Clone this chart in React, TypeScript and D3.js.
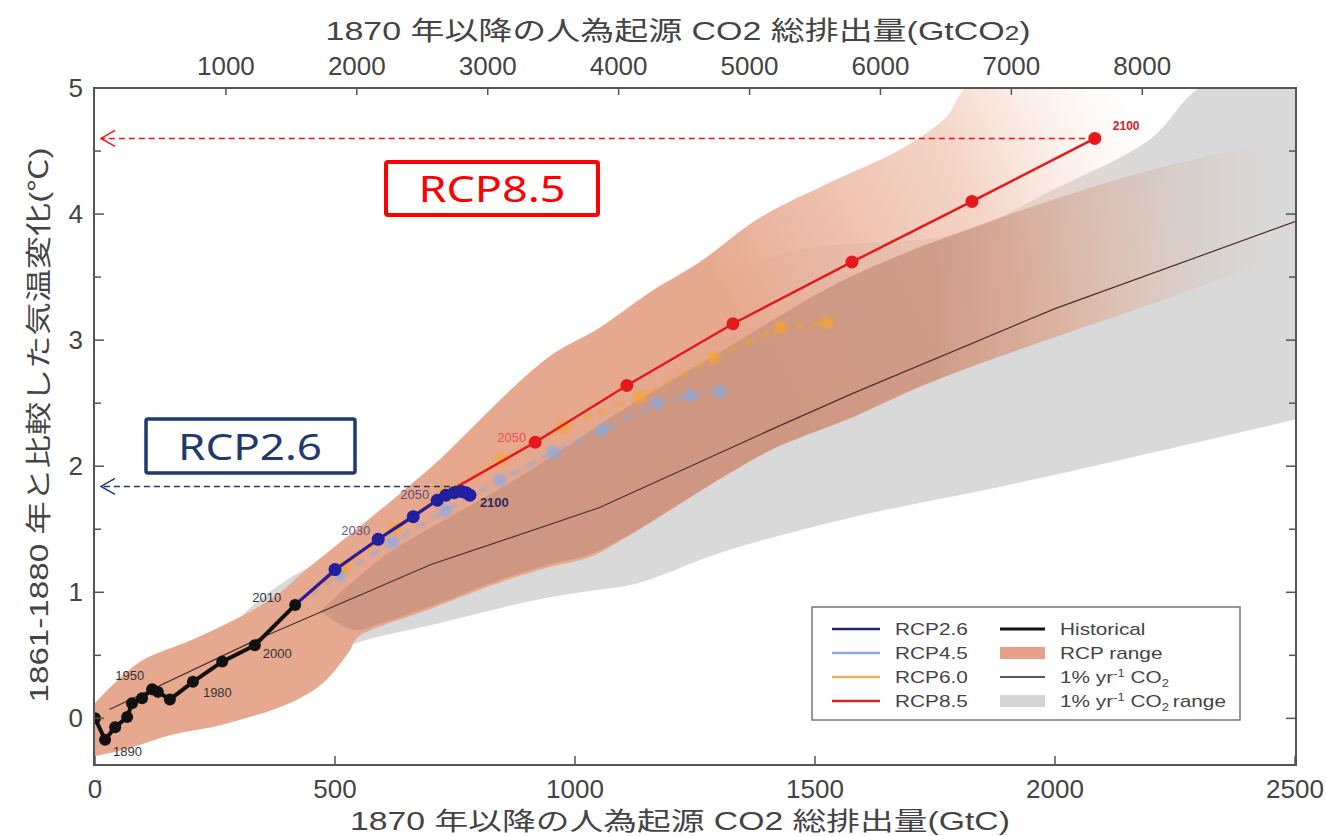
import * as d3 from 'd3';

// cumulative CO2 emissions since 1870 (GtC) and temperature change vs 1861-1880 (°C)
const histYears = [1870, 1890, 1900, 1910, 1920, 1930, 1950, 1960, 1970, 1980, 1990, 2000, 2010];
const histEmis = [0, 21, 42, 67, 77, 98, 119, 131, 156, 204, 265, 333, 417];
const histTemp = [0.0, -0.17, -0.07, 0.01, 0.12, 0.16, 0.23, 0.21, 0.15, 0.29, 0.45, 0.58, 0.9];

const rcpYears = [2010, 2020, 2030, 2040, 2050, 2060, 2070, 2080, 2090, 2100];
const rcp26Emis = [417, 500, 590, 663, 713, 731, 748, 763, 773, 781];
const rcp26Temp = [0.9, 1.18, 1.42, 1.6, 1.73, 1.77, 1.79, 1.8, 1.79, 1.77];
const rcp45Emis = [417, 510, 620, 730, 844, 954, 1058, 1171, 1240, 1302];
const rcp45Temp = [0.9, 1.14, 1.4, 1.65, 1.89, 2.11, 2.29, 2.5, 2.56, 2.59];
const rcp60Emis = [417, 520, 625, 730, 845, 975, 1135, 1288, 1427, 1525];
const rcp60Temp = [0.9, 1.2, 1.5, 1.8, 2.05, 2.31, 2.55, 2.86, 3.1, 3.14];
const rcp85Emis = [417, 510, 620, 760, 917, 1108, 1329, 1577, 1827, 2083];
const rcp85Temp = [0.9, 1.2, 1.5, 1.85, 2.19, 2.64, 3.13, 3.62, 4.1, 4.6];

// 1% per year CO2 experiment
const pctEmis = [30, 340, 700, 1050, 1420, 1580, 2000, 2500];
const pctTemp = [0.07, 0.63, 1.22, 1.67, 2.31, 2.58, 3.25, 3.94];

// ranges [emissions, temperature]
const pctRangeUpper: [number, number][] = [[150, 0.3], [250, 0.6], [330, 0.9], [400, 1.1], [470, 1.25], [600, 1.6], [800, 2.2], [1000, 2.8], [1200, 3.3], [1450, 3.7], [1800, 3.85], [2000, 4.2], [2200, 4.6], [2300, 5.0], [2500, 5.3]];
const pctRangeLower: [number, number][] = [[150, 0.3], [300, 0.4], [450, 0.45], [546, 0.6], [700, 0.74], [850, 0.88], [947, 0.96], [1031, 1.01], [1129, 1.07], [1300, 1.31], [1550, 1.57], [1950, 1.89], [2500, 2.37]];
const rcpRangeUpper: [number, number][] = [[0, 0.12], [90, 0.44], [200, 0.62], [300, 0.8], [380, 0.98], [440, 1.18], [545, 1.5], [650, 1.83], [720, 2.06], [800, 2.36], [870, 2.62], [950, 2.88], [1052, 3.1], [1156, 3.38], [1260, 3.62], [1385, 3.97], [1531, 4.25], [1677, 4.51], [1771, 4.76], [1830, 5.05], [2500, 5.3]];
const rcpRangeLower: [number, number][] = [[0, -0.3], [60, -0.25], [160, -0.13], [265, -0.05], [405, 0.12], [475, 0.28], [531, 0.54], [546, 0.64], [700, 0.87], [845, 1.08], [947, 1.2], [1031, 1.28], [1100, 1.42], [1320, 1.94], [1420, 2.15], [1573, 2.38], [1750, 2.68], [2270, 3.38], [2500, 3.7]];
const rcpCoreUpper: [number, number][] = [[470, 0.85], [600, 1.28], [750, 1.62], [900, 1.95], [1100, 2.45], [1300, 2.9], [1573, 3.5], [1886, 3.97], [2200, 4.35], [2500, 4.6]];
const rcpCoreLower: [number, number][] = [[470, 0.85], [540, 0.7], [600, 0.76], [700, 0.89], [845, 1.1], [947, 1.22], [1031, 1.3], [1100, 1.43], [1320, 1.94], [1420, 2.15], [1573, 2.38], [1750, 2.68], [2270, 3.38], [2500, 3.7]];

const xTicks = [0, 500, 1000, 1500, 2000, 2500];
const topTicks = [1000, 2000, 3000, 4000, 5000, 6000, 7000, 8000];
const yTicks = [0, 1, 2, 3, 4, 5];
const yMinor = [-0.5, 0.5, 1.5, 2.5, 3.5, 4.5];
const RCP26_PEAK = 1.84;

const histLabels = [
  { year: 1890, dx: 8, dy: 16, anchor: 'start' },
  { year: 1950, dx: -8, dy: -9, anchor: 'end' },
  { year: 1980, dx: 10, dy: 15, anchor: 'start' },
  { year: 2000, dx: 8, dy: 13, anchor: 'start' },
  { year: 2010, dx: -14, dy: -3, anchor: 'end' },
];

const W = 1326;
const H = 836;
const x = d3.scaleLinear().domain([0, 2500]).range([95, 1295]);
const y = d3.scaleLinear().domain([-0.37, 5]).range([765, 88]);
const xTop = d3.scaleLinear().domain([0, (2500 * 44) / 12]).range([95, 1295]);

const line = d3.line<[number, number]>().x(d => x(d[0])).y(d => y(d[1]));
const smooth = d3.line<[number, number]>().x(d => x(d[0])).y(d => y(d[1])).curve(d3.curveCatmullRom.alpha(0.5));
const band = (up: [number, number][], lo: [number, number][]) =>
  smooth(up) + (smooth(lo.slice().reverse()) || '').replace(/^M/, 'L') + 'Z';
const zip = (a: number[], b: number[]) => a.map((v, i) => [v, b[i]] as [number, number]);

const FONT = '"Liberation Sans", Arial, sans-serif';
const JP = '"Liberation Sans", "Noto Sans CJK JP", sans-serif';

const series = [
  { name: 'RCP4.5', pts: zip(rcp45Emis, rcp45Temp), color: '#7eaaf0', op: 0.65, w: 3, r: 6.5, from: 2020, blur: true },
  { name: 'RCP6.0', pts: zip(rcp60Emis, rcp60Temp), color: '#f5a52e', op: 0.7, w: 3, r: 6.5, from: 2020, blur: true },
  { name: 'RCP8.5', pts: zip(rcp85Emis, rcp85Temp), color: '#e3191e', op: 1, w: 2.5, r: 6.5, from: 2050, blur: false },
  { name: 'RCP2.6', pts: zip(rcp26Emis, rcp26Temp), color: '#1f1fa0', op: 1, w: 3, r: 6.5, from: 2020, blur: false },
];

function LegendText({ x0, y0, children }: { x0: number; y0: number; children: any }) {
  return (
    <text transform={`translate(${x0},${y0}) scale(1.3,1)`}>{children}</text>
  );
}

function Legend() {
  const rowsL = [
    { label: 'RCP2.6', color: '#1f1f7a' },
    { label: 'RCP4.5', color: '#8fa8e8' },
    { label: 'RCP6.0', color: '#e8b050' },
    { label: 'RCP8.5', color: '#d0242a' },
  ];
  const x0 = 812, y0 = 607;
  const rowY = (i: number) => y0 + 22 + i * 24;
  return (
    <g fontFamily={FONT} fontSize={16} fill="#444">
      <rect x={x0} y={y0} width={428} height={113} fill="white" stroke="#777" strokeWidth={1.5} />
      {rowsL.map((r, i) => (
        <g key={r.label}>
          <line x1={832} x2={880} y1={rowY(i)} y2={rowY(i)} stroke={r.color} strokeWidth={2.5} />
          <LegendText x0={895} y0={rowY(i) + 6}>{r.label}</LegendText>
        </g>
      ))}
      <line x1={1000} x2={1045} y1={rowY(0)} y2={rowY(0)} stroke="#111" strokeWidth={3} />
      <LegendText x0={1060} y0={rowY(0) + 6}>Historical</LegendText>
      <rect x={1000} y={rowY(1) - 6} width={45} height={12} fill="#e9a08a" />
      <LegendText x0={1060} y0={rowY(1) + 6}>RCP range</LegendText>
      <line x1={1000} x2={1045} y1={rowY(2)} y2={rowY(2)} stroke="#222" strokeWidth={1.5} />
      <LegendText x0={1060} y0={rowY(2) + 6}>
        1% yr<tspan fontSize={10} dy={-6}>-1</tspan>
        <tspan dy={6}> CO</tspan>
        <tspan fontSize={10} dy={4}>2</tspan>
      </LegendText>
      <rect x={1000} y={rowY(3) - 6} width={45} height={12} fill="#d4d4d4" />
      <LegendText x0={1060} y0={rowY(3) + 6}>
        1% yr<tspan fontSize={10} dy={-6}>-1</tspan>
        <tspan dy={6}> CO</tspan>
        <tspan fontSize={10} dy={4}>2</tspan>
        <tspan dy={-4} dx={3}>range</tspan>
      </LegendText>
    </g>
  );
}

export default function App() {
  const [x1, x2] = x.range();
  const [yb, yt] = y.range();
  const rcp26Last = rcp26Emis[rcp26Emis.length - 1];
  const rcp85Last = rcp85Emis[rcp85Emis.length - 1];
  const rcp85LastT = rcp85Temp[rcp85Temp.length - 1];
  const hist = zip(histEmis, histTemp);
  const idx = (yr: number) => rcpYears.indexOf(yr);

  return (
    <svg width={W} height={H} style={{ position: 'absolute', left: 0, top: 0, background: 'white' }}>
      <defs>
        <clipPath id="plot">
          <rect x={x1} y={yt} width={x2 - x1} height={yb - yt} />
        </clipPath>
        <filter id="soft" x="-10%" y="-10%" width="120%" height="120%">
          <feGaussianBlur stdDeviation={1.8} />
        </filter>
        <linearGradient id="outerFade" gradientUnits="userSpaceOnUse" x1={x(1300)} y1={y(3.3)} x2={x(2150)} y2={y(4.9)}>
          <stop offset="0" stopColor="#e6a88e" stopOpacity={1} />
          <stop offset="0.6" stopColor="#efc2ae" stopOpacity={0.7} />
          <stop offset="1" stopColor="#f6dccf" stopOpacity={0} />
        </linearGradient>
        <linearGradient id="coreFade" gradientUnits="userSpaceOnUse" x1={x(1750)} y1={0} x2={x(2450)} y2={0}>
          <stop offset="0" stopColor="#c9937e" stopOpacity={0.8} />
          <stop offset="1" stopColor="#d8a995" stopOpacity={0} />
        </linearGradient>
      </defs>

      <g clipPath="url(#plot)">
        <path d={band(pctRangeUpper, pctRangeLower)} fill="#d9d9d9" />
        <path d={band(rcpRangeUpper, rcpRangeLower)} fill="url(#outerFade)" />
        <path d={band(rcpCoreUpper, rcpCoreLower)} fill="url(#coreFade)" />
        <path d={line(zip(pctEmis, pctTemp)) || ''} fill="none" stroke="#4a3028" strokeWidth={1.2} />

        {series.map(s => (
          <g key={s.name} opacity={s.op} filter={s.blur ? 'url(#soft)' : undefined}>
            <path d={line(s.pts) || ''} fill="none" stroke={s.color} strokeWidth={s.w} strokeDasharray={s.blur ? '10,8' : undefined} />
            {s.pts.filter((_, i) => rcpYears[i] >= s.from).map((p, i) => (
              <circle key={i} cx={x(p[0])} cy={y(p[1])} r={s.r} fill={s.color} />
            ))}
          </g>
        ))}

        <path d={line(hist) || ''} fill="none" stroke="#111" strokeWidth={4} />
        {hist.map((p, i) => (
          <circle key={i} cx={x(p[0])} cy={y(p[1])} r={6} fill="#111" />
        ))}
      </g>

      {/* frame and ticks */}
      <rect x={x1 - 1} y={yt} width={x2 - x1 + 2} height={yb - yt} fill="none" stroke="#555" strokeWidth={2} />
      {xTicks.map(t => (
        <g key={t}>
          <line x1={x(t)} x2={x(t)} y1={yb} y2={yb - 9} stroke="#555" strokeWidth={1.5} />
          <text x={x(t)} y={yb + 33} textAnchor="middle" fontFamily={FONT} fontSize={26} fill="#444">{t}</text>
        </g>
      ))}
      {topTicks.map(t => (
        <g key={t}>
          <line x1={xTop(t)} x2={xTop(t)} y1={yt} y2={yt + 7} stroke="#555" strokeWidth={1.5} />
          <text x={xTop(t)} y={yt - 13} textAnchor="middle" fontFamily={FONT} fontSize={26} fill="#444">{t}</text>
        </g>
      ))}
      {yTicks.map(t => (
        <g key={t}>
          <line x1={x1} x2={x1 + 9} y1={y(t)} y2={y(t)} stroke="#555" strokeWidth={1.5} />
          <line x1={x2} x2={x2 - 9} y1={y(t)} y2={y(t)} stroke="#555" strokeWidth={1.5} />
          <text x={x1 - 12} y={y(t) + 9} textAnchor="end" fontFamily={FONT} fontSize={26} fill="#444">{t}</text>
        </g>
      ))}
      {yMinor.map(t => (
        <g key={t}>
          <line x1={x1} x2={x1 + 6} y1={y(t)} y2={y(t)} stroke="#555" strokeWidth={1.5} />
          <line x1={x2} x2={x2 - 6} y1={y(t)} y2={y(t)} stroke="#555" strokeWidth={1.5} />
        </g>
      ))}

      {/* axis titles */}
      <text x={678} y={40} textAnchor="middle" fontFamily={JP} fontSize={26} fill="#444" textLength={705} lengthAdjust="spacingAndGlyphs">
        1870 年以降の人為起源 CO2 総排出量(GtCO<tspan fontSize={20}>2</tspan>)
      </text>
      <text x={680} y={830} textAnchor="middle" fontFamily={JP} fontSize={25} fill="#444" textLength={660} lengthAdjust="spacingAndGlyphs">
        1870 年以降の人為起源 CO2 総排出量(GtC)
      </text>
      <text transform="translate(48,425) rotate(-90)" textAnchor="middle" fontFamily={JP} fontSize={26} fill="#444" textLength={555} lengthAdjust="spacingAndGlyphs">
        1861-1880 年と比較した気温変化(℃)
      </text>

      {/* year labels */}
      <g fontFamily={FONT} fontSize={13} fill="#333">
        {histLabels.map(l => {
          const i = histYears.indexOf(l.year);
          return (
            <text key={l.year} x={x(histEmis[i]) + l.dx} y={y(histTemp[i]) + l.dy} textAnchor={l.anchor as any}>{l.year}</text>
          );
        })}
      </g>
      <g fontFamily={FONT} fontSize={13}>
        <text x={x(rcp26Emis[idx(2030)]) - 8} y={y(rcp26Temp[idx(2030)]) - 4} textAnchor="end" fill="#5a5a8a">2030</text>
        <text x={x(rcp26Emis[idx(2050)]) - 8} y={y(rcp26Temp[idx(2050)]) - 1} textAnchor="end" fill="#6a4a7a">2050</text>
        <text x={x(rcp26Last) + 10} y={y(rcp26Temp[idx(2100)]) + 12} fill="#2a2a5a" fontWeight="bold">2100</text>
        <text x={x(rcp85Emis[idx(2050)]) - 9} y={y(rcp85Temp[idx(2050)])} textAnchor="end" fill="#e8505a">2050</text>
        <text x={x(rcp85Last) + 18} y={y(rcp85LastT) - 8} fill="#d0242a" fontWeight="bold" fontSize={12}>2100</text>
      </g>

      {/* annotation arrows */}
      <g fill="none">
        <line x1={x(rcp85Last)} x2={x1 + 6} y1={y(rcp85LastT)} y2={y(rcp85LastT)} stroke="#ff1010" strokeWidth={1.5} strokeDasharray="6,4" />
        <path d={`M${x1 + 20},${y(rcp85LastT) - 8} L${x1 + 6},${y(rcp85LastT)} L${x1 + 20},${y(rcp85LastT) + 8}`} stroke="#ff1010" strokeWidth={1.5} />
        <line x1={x(rcp26Last) - 10} x2={x1 + 6} y1={y(RCP26_PEAK)} y2={y(RCP26_PEAK)} stroke="#1f3a6e" strokeWidth={1.5} strokeDasharray="6,4" />
        <path d={`M${x1 + 20},${y(RCP26_PEAK) - 8} L${x1 + 6},${y(RCP26_PEAK)} L${x1 + 20},${y(RCP26_PEAK) + 8}`} stroke="#1f3a6e" strokeWidth={1.5} />
      </g>

      <rect x={386} y={162} width={212} height={53} fill="white" stroke="#ff0000" strokeWidth={4} rx={2} />
      <text x={492} y={202} textAnchor="middle" fontFamily='"Noto Sans", sans-serif' fontSize={37} fill="#ff0000" textLength={147} lengthAdjust="spacingAndGlyphs">RCP8.5</text>
      <rect x={146} y={419} width={209} height={54} fill="white" stroke="#1f3a6e" strokeWidth={3.5} rx={2} />
      <text x={250} y={460} textAnchor="middle" fontFamily='"Noto Sans", sans-serif' fontSize={37} fill="#1f3a6e" textLength={144} lengthAdjust="spacingAndGlyphs">RCP2.6</text>

      <Legend />
    </svg>
  );
}
